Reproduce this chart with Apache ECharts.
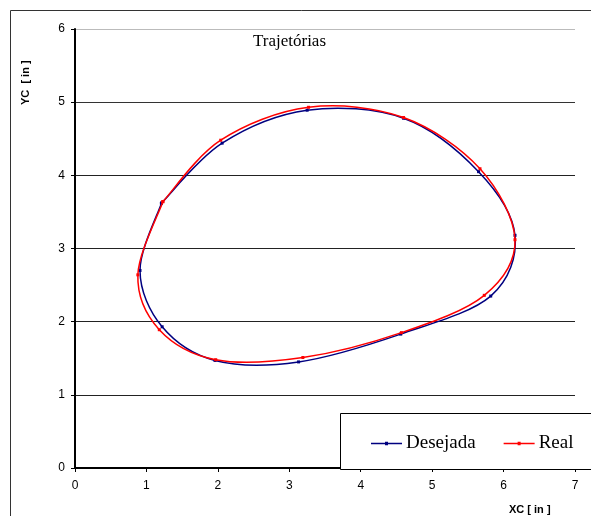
<!DOCTYPE html>
<html>
<head>
<meta charset="utf-8">
<script src="https://cdn.jsdelivr.net/npm/echarts@6/dist/echarts.min.js"></script>
<style>html,body{margin:0;padding:0;background:#fff;}#c{width:591px;height:516px;}</style>
</head>
<body>
<div id="c"></div>
<script>
var desejadaX = [1.21, 2.06, 3.25, 4.60, 5.65, 6.16, 5.82, 4.56, 3.13, 1.96, 1.22, 0.91, 1.21];
var desejadaY = [3.62, 4.44, 4.89, 4.78, 4.05, 3.18, 2.35, 1.83, 1.45, 1.47, 1.93, 2.70, 3.62];
var realX = [1.23, 2.04, 3.27, 4.60, 5.67, 6.16, 5.73, 4.57, 3.19, 1.97, 1.18, 0.88, 1.23];
var realY = [3.64, 4.48, 4.93, 4.79, 4.09, 3.12, 2.36, 1.85, 1.51, 1.48, 1.89, 2.64, 3.64];
var xTicks = [0, 1, 2, 3, 4, 5, 6, 7];
var yTicks = [0, 1, 2, 3, 4, 5, 6];

function pairs(xs, ys) { return xs.map(function (x, i) { return [x, ys[i]]; }); }

// Smoothed line (Catmull-Rom style, like a spreadsheet "smoothed line"), computed in pixel space
function makeRenderer(xs, ys, color) {
  return function (params, api) {
    var i = params.dataIndex;
    var children = [];
    if (i === 0) {
      var P = xs.map(function (x, k) { return api.coord([x, ys[k]]); });
      var n = P.length;
      for (var k = 0; k < n - 1; k++) {
        var p0 = P[Math.max(k - 1, 0)], p1 = P[k], p2 = P[k + 1], p3 = P[Math.min(k + 2, n - 1)];
        children.push({
          type: 'bezierCurve',
          shape: {
            x1: p1[0], y1: p1[1], x2: p2[0], y2: p2[1],
            cpx1: p1[0] + (p2[0] - p0[0]) / 6, cpy1: p1[1] + (p2[1] - p0[1]) / 6,
            cpx2: p2[0] - (p3[0] - p1[0]) / 6, cpy2: p2[1] - (p3[1] - p1[1]) / 6
          },
          style: {stroke: color, lineWidth: 1.5, fill: null}
        });
      }
    }
    var c = api.coord([api.value(0), api.value(1)]);
    children.push({
      type: 'rect',
      shape: {x: c[0] - 1.5, y: c[1] - 1.5, width: 3, height: 3},
      style: {fill: color},
      z2: 5
    });
    return {type: 'group', children: children};
  };
}

var blue = '#000080', red = '#ff0000';
var chart = echarts.init(document.getElementById('c'), null, {renderer: 'canvas'});
chart.setOption({
  animation: false,
  backgroundColor: '#fff',
  grid: {left: 75, right: 16, top: 29, bottom: 48},
  xAxis: {
    type: 'value', min: xTicks[0], max: xTicks[xTicks.length - 1], interval: 1,
    axisLine: {show: true, onZero: false, lineStyle: {color: '#000', width: 2}},
    axisTick: {show: true, length: 4, lineStyle: {color: '#000'}},
    axisLabel: {color: '#000', fontFamily: 'Liberation Sans, Arial', fontSize: 12, margin: 12},
    splitLine: {show: false}
  },
  yAxis: {
    type: 'value', min: yTicks[0], max: yTicks[yTicks.length - 1], interval: 1,
    axisLine: {show: true, onZero: false, lineStyle: {color: '#000', width: 2}},
    axisTick: {show: true, length: 4, lineStyle: {color: '#000'}},
    axisLabel: {color: '#000', fontFamily: 'Liberation Sans, Arial', fontSize: 12, margin: 10},
    splitLine: {show: true, lineStyle: {color: ['#000', '#222', '#222', '#222', '#222', '#333', '#bbb'], width: 1}}
  },
  legend: {
    show: true,
    left: 366, top: 429,
    itemWidth: 31, itemHeight: 3.5, itemGap: 28,
    textStyle: {fontFamily: 'Liberation Serif, Times New Roman', fontSize: 19, color: '#000', padding: [0, 0, 0, -1]},
    z: 20,
    data: [
      {name: 'Desejada', icon: 'path://M0,1 L31,1 L31,2.5 L0,2.5 Z M14,0 L17,0 L17,3.5 L14,3.5 Z'},
      {name: 'Real', icon: 'path://M0,1 L31,1 L31,2.5 L0,2.5 Z M14,0 L17,0 L17,3.5 L14,3.5 Z'}
    ]
  },
  graphic: [
    {type: 'rect', shape: {x: 10.5, y: 10.5, width: 600, height: 540}, style: {fill: 'none', stroke: '#333', lineWidth: 1}, z: 0, silent: true},
    {type: 'rect', shape: {x: 340.5, y: 413.5, width: 270, height: 56}, style: {fill: '#fff', stroke: '#000', lineWidth: 1}, z: 10, silent: true},
    {type: 'text', left: 253, top: 33, style: {text: 'Trajetórias', font: '17px "Liberation Serif", "Times New Roman"', fill: '#000'}, z: 10},
    {type: 'text', x: 20, y: 105, rotation: Math.PI / 2, style: {text: 'YC  [ in ]', font: 'bold 11px "Liberation Sans", Arial', fill: '#000'}, z: 10},
    {type: 'text', left: 509, top: 504, style: {text: 'XC [ in ]', font: 'bold 11px "Liberation Sans", Arial', fill: '#000'}, z: 10}
  ],
  series: [
    {
      name: 'Desejada', type: 'custom', data: pairs(desejadaX, desejadaY),
      encode: {x: 0, y: 1},
      renderItem: makeRenderer(desejadaX, desejadaY, blue),
      itemStyle: {color: blue}, z: 3
    },
    {
      name: 'Real', type: 'custom', data: pairs(realX, realY),
      encode: {x: 0, y: 1},
      renderItem: makeRenderer(realX, realY, red),
      itemStyle: {color: red}, z: 4
    }
  ]
});
</script>
</body>
</html>
